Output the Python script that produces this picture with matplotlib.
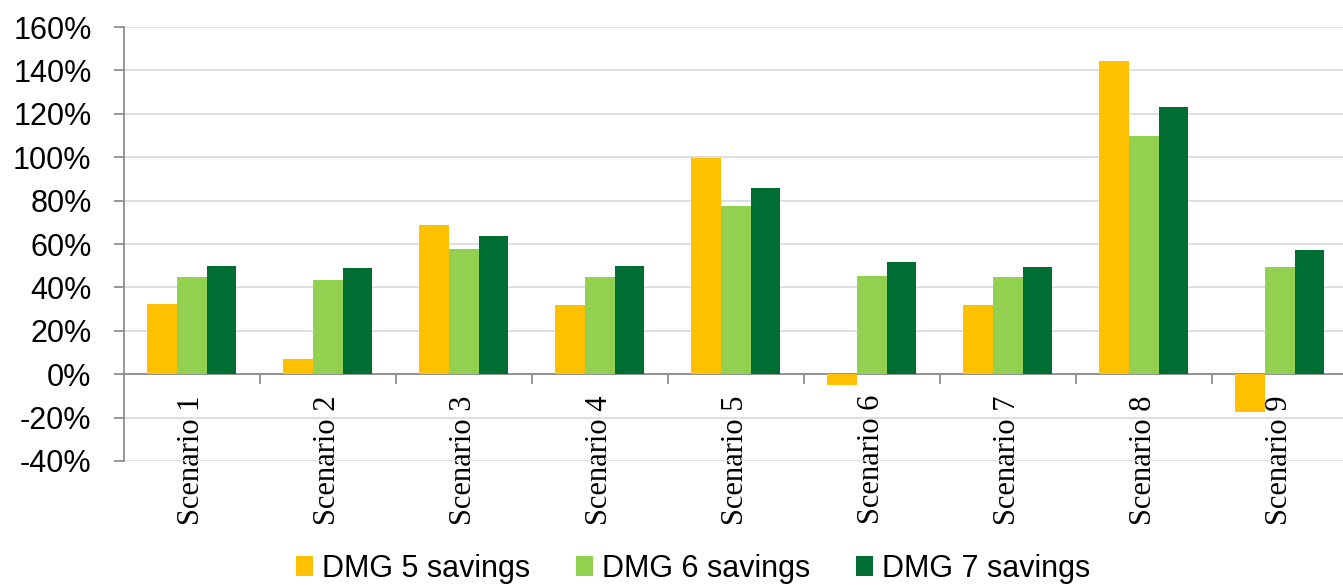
import matplotlib
matplotlib.use("Agg")
import matplotlib.pyplot as plt
from matplotlib.patches import Patch
from matplotlib.ticker import FixedLocator, FuncFormatter
import numpy as np

scenarios = [f"Scenario {i}" for i in range(1, 10)]
series_names = ["DMG 5 savings", "DMG 6 savings", "DMG 7 savings"]
dmg5 = [32.5, 7.0, 68.8, 31.8, 99.5, -4.8, 32.0, 144.5, -17.2]
dmg6 = [44.8, 43.4, 57.8, 45.0, 77.6, 45.2, 44.8, 110.0, 49.3]
dmg7 = [49.9, 48.9, 63.8, 49.8, 86.0, 51.8, 49.5, 123.3, 57.2]
y_ticks = list(range(-40, 161, 20))

colors = ["#FFC000", "#92D050", "#006E33"]
sans = ["Liberation Sans", "DejaVu Sans"]
serif = ["Liberation Serif", "DejaVu Serif"]

fig = plt.figure(figsize=(13.43, 5.85), dpi=100)
ax = fig.add_axes([0.092, 0.212, 0.9114, 0.7418])

x = np.arange(len(scenarios))
w = 0.22
for i, (vals, c) in enumerate(zip([dmg5, dmg6, dmg7], colors)):
    ax.bar(x + (i - 1) * w, vals, width=w, color=c, zorder=3)

ax.set_xlim(-0.5, len(scenarios) - 0.5)
ax.set_ylim(-40, 160)

# horizontal grid
ax.yaxis.set_major_locator(FixedLocator(y_ticks))
ax.yaxis.set_major_formatter(FuncFormatter(lambda v, _: f"{v:.0f}%"))
ax.grid(axis="y", color="#d9d9d9", linewidth=1.2, zorder=0)
ax.tick_params(axis="y", direction="out", length=7, width=1.2, color="#868686",
               pad=16, labelsize=22)
for lab in ax.get_yticklabels():
    lab.set_family(sans)

# category axis sits on the zero line
for s in ["top", "right"]:
    ax.spines[s].set_visible(False)
ax.spines["bottom"].set_position(("data", 0))
ax.spines["bottom"].set_color("#868686")
ax.spines["bottom"].set_linewidth(1.2)
ax.spines["left"].set_color("#868686")
ax.spines["left"].set_linewidth(1.2)

ax.set_xticks(x)
ax.set_xticklabels(scenarios, rotation=90, fontsize=22, family=serif)
ax.set_xticks(np.arange(0.5, len(scenarios) - 0.5, 1), minor=True)
ax.tick_params(axis="x", which="major", length=0, pad=15)
ax.tick_params(axis="x", which="minor", direction="out", length=7, width=1.2,
               color="#868686")

handles = [Patch(facecolor=c, edgecolor="none", label=n)
           for c, n in zip(colors, series_names)]
fig.legend(handles=handles, loc="center", bbox_to_anchor=(0.516, 0.028),
           ncol=3, frameon=False, prop={"family": sans, "size": 22},
           handlelength=0.55, handleheight=0.6, handletextpad=0.3,
           columnspacing=1.5, borderpad=0)

fig.savefig("out.png", dpi=100)
